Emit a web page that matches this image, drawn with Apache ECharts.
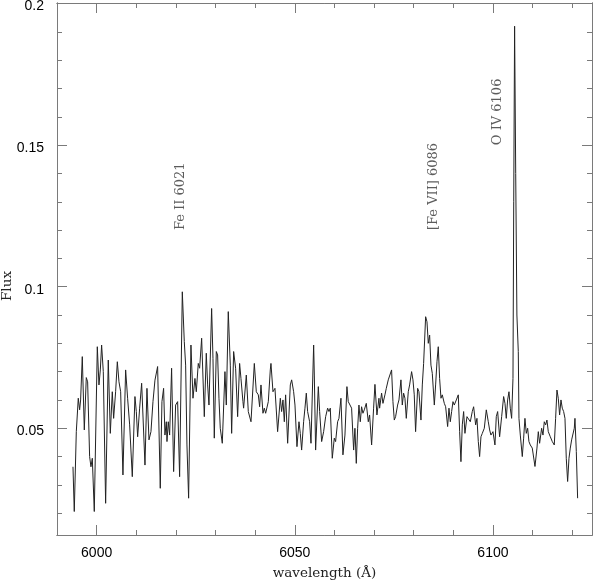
<!DOCTYPE html>
<html>
<head>
<meta charset="utf-8">
<script src="https://cdn.jsdelivr.net/npm/echarts@6/dist/echarts.min.js"></script>
<style>
html,body{margin:0;padding:0;background:#fff;}
#chart{width:593px;height:582px;}
</style>
</head>
<body>
<div id="chart"></div>
<script>
const wavelength = [
5994.03,5994.36,5994.87,5995.37,5995.71,5995.96,5996.38,5996.89,5997.39,5997.73,
5998.23,5998.57,5998.91,5999.41,6000.17,6000.59,6000.93,6001.26,6001.68,6002.27,
6002.94,6003.45,6003.95,6004.29,6004.79,6005.22,6005.64,6006.06,6006.64,6007.32,
6007.82,6008.33,6009.00,6009.67,6010.01,6010.35,6010.85,6011.36,6012.20,6012.70,
6013.21,6013.71,6014.22,6014.72,6015.39,6016.06,6016.48,6016.90,6017.24,6017.58,
6017.75,6018.08,6018.42,6018.92,6019.43,6019.93,6020.44,6020.94,6021.62,6022.12,
6022.46,6022.79,6023.21,6023.80,6024.31,6024.81,6025.15,6025.65,6025.99,6026.50,
6027.17,6027.67,6028.01,6028.35,6029.02,6029.36,6029.69,6030.20,6030.53,6030.87,
6031.20,6031.71,6032.38,6032.72,6033.22,6033.73,6034.07,6034.57,6035.07,6035.58,
6036.08,6036.42,6036.92,6037.09,6037.77,6038.27,6038.95,6039.79,6040.29,6040.80,
6041.13,6041.47,6041.97,6042.31,6042.65,6043.32,6043.82,6043.99,6044.50,6045.00,
6045.67,6046.35,6046.68,6047.02,6047.36,6047.69,6048.20,6048.87,6049.21,6049.71,
6050.05,6050.55,6051.06,6051.39,6051.73,6052.23,6052.57,6052.91,6053.24,6053.75,
6054.09,6054.76,6054.93,6055.26,6055.94,6056.27,6056.78,6057.28,6057.79,6058.29,
6058.63,6058.96,6059.46,6059.97,6060.30,6060.81,6061.15,6061.65,6062.15,6062.66,
6063.16,6063.50,6063.84,6064.34,6064.85,6065.18,6065.52,6065.86,6066.19,6066.53,
6066.86,6067.20,6067.54,6068.04,6068.55,6068.88,6069.39,6069.89,6070.23,6070.73,
6071.24,6071.41,6071.91,6072.25,6072.75,6073.09,6073.59,6073.93,6074.43,6074.77,
6075.11,6075.44,6075.95,6076.29,6076.79,6077.13,6077.46,6077.80,6078.14,6078.64,
6078.98,6079.48,6079.82,6080.15,6080.49,6081.00,6081.33,6081.84,6082.18,6082.51,
6083.02,6083.36,6083.69,6084.03,6084.36,6084.70,6085.21,6085.54,6085.88,6086.21,
6086.55,6086.89,6087.22,6087.73,6088.07,6088.57,6088.91,6089.24,6089.58,6089.92,
6090.25,6090.76,6091.26,6091.60,6091.93,6092.27,6092.61,6092.94,6093.45,6093.78,
6094.29,6094.79,6095.13,6095.64,6095.97,6096.31,6096.64,6096.98,6097.32,6097.82,
6098.33,6098.83,6099.17,6099.50,6100.01,6100.51,6100.85,6101.19,6101.69,6102.20,
6102.70,6103.04,6103.37,6103.71,6104.05,6104.38,6104.72,6105.06,6105.25,6105.47,
6105.75,6106.05,6106.40,6106.57,6106.91,6107.41,6107.75,6108.08,6108.42,6108.76,
6109.09,6109.43,6109.93,6110.61,6111.11,6111.45,6111.78,6112.29,6112.63,6112.96,
6113.30,6113.63,6113.97,6114.48,6114.98,6115.48,6115.82,6116.16,6116.49,6116.83,
6117.17,6117.50,6117.84,6118.18,6118.51,6118.85,6119.19,6119.52,6119.86,6120.20,
6120.53,6120.70,6121.04,6121.37
];
const flux = [
0.0364,0.0206,0.0488,0.0606,0.0565,0.0600,0.0753,0.0494,0.0679,0.0664,
0.0400,0.0364,0.0394,0.0206,0.0788,0.0653,0.0706,0.0794,0.0700,0.0235,
0.0741,0.0482,0.0629,0.0535,0.0629,0.0735,0.0664,0.0629,0.0335,0.0706,
0.0606,0.0512,0.0329,0.0612,0.0559,0.0470,0.0571,0.0659,0.0370,0.0641,
0.0459,0.0488,0.0594,0.0670,0.0718,0.0288,0.0594,0.0641,0.0476,0.0523,
0.0453,0.0523,0.0476,0.0712,0.0347,0.0582,0.0594,0.0329,0.0982,0.0806,
0.0723,0.0441,0.0253,0.0794,0.0606,0.0676,0.0629,0.0729,0.0712,0.0818,
0.0541,0.0765,0.0653,0.0582,0.0923,0.0747,0.0465,0.0771,0.0759,0.0606,
0.0500,0.0447,0.0700,0.0582,0.0912,0.0723,0.0482,0.0771,0.0712,0.0541,
0.0729,0.0676,0.0594,0.0571,0.0688,0.0559,0.0523,0.0729,0.0629,0.0618,
0.0576,0.0653,0.0553,0.0571,0.0553,0.0594,0.0706,0.0729,0.0629,0.0641,
0.0488,0.0606,0.0559,0.0600,0.0523,0.0618,0.0447,0.0653,0.0671,0.0629,
0.0582,0.0435,0.0523,0.0482,0.0423,0.0523,0.0571,0.0624,0.0559,0.0523,
0.0447,0.0794,0.0688,0.0423,0.0647,0.0559,0.0453,0.0488,0.0541,0.0571,
0.0559,0.0571,0.0394,0.0465,0.0453,0.0523,0.0535,0.0606,0.0406,0.0476,
0.0647,0.0594,0.0600,0.0571,0.0423,0.0500,0.0376,0.0500,0.0582,0.0523,
0.0576,0.0553,0.0565,0.0588,0.0523,0.0547,0.0441,0.0571,0.0655,0.0547,
0.0606,0.0571,0.0624,0.0588,0.0618,0.0641,0.0671,0.0665,0.0706,0.0594,
0.0529,0.0541,0.0582,0.0600,0.0671,0.0582,0.0624,0.0606,0.0535,0.0629,
0.0653,0.0700,0.0671,0.0618,0.0488,0.0641,0.0629,0.0529,0.0653,0.0729,
0.0894,0.0876,0.0800,0.0829,0.0723,0.0694,0.0582,0.0653,0.0735,0.0788,
0.0676,0.0606,0.0618,0.0588,0.0576,0.0506,0.0571,0.0523,0.0559,0.0594,
0.0582,0.0600,0.0618,0.0488,0.0382,0.0512,0.0559,0.0482,0.0541,0.0547,
0.0523,0.0559,0.0576,0.0512,0.0535,0.0453,0.0400,0.0470,0.0482,0.0500,
0.0565,0.0523,0.0494,0.0476,0.0488,0.0441,0.0541,0.0559,0.0470,0.0541,
0.0612,0.0588,0.0535,0.0600,0.0629,0.0571,0.0535,0.0676,0.1300,0.1920,
0.1400,0.0900,0.0771,0.0535,0.0476,0.0400,0.0465,0.0535,0.0482,0.0500,
0.0453,0.0441,0.0430,0.0365,0.0430,0.0488,0.0447,0.0500,0.0476,0.0523,
0.0512,0.0529,0.0488,0.0470,0.0453,0.0441,0.0535,0.0635,0.0606,0.0547,
0.0600,0.0571,0.0559,0.0535,0.0394,0.0312,0.0394,0.0430,0.0459,0.0453,
0.0500,0.0535,0.0418,0.0253
];
const xMajorTicks = [6000, 6050, 6100];
const xMinorTicks = [6010, 6020, 6030, 6040, 6060, 6070, 6080, 6090, 6110, 6120];
const yMajorTicks = [0.05, 0.1, 0.15, 0.2];
const yMinorTicks = [0.02, 0.03, 0.04, 0.06, 0.07, 0.08, 0.09, 0.11, 0.12, 0.13, 0.14, 0.16, 0.17, 0.18, 0.19];
const annoLabels = ['Fe II 6021', '[Fe VII] 6086', 'O IV 6106'];
const annoX = [6021.2, 6085.1, 6101.1];
const annoY = [0.12, 0.12, 0.15];

const X_MIN = 5990, X_MAX = 6125, Y_MIN = 0.0123, Y_MAX = 0.2002;
const AXIS_COLOR = '#7a7a7a';

function xAx(position, ticks, len, extra) {
  return Object.assign({
    type: 'value', position: position, min: X_MIN, max: X_MAX,
    axisLine: { show: true, lineStyle: { color: AXIS_COLOR, width: 1 } },
    axisTick: { show: true, inside: true, length: len, customValues: ticks, lineStyle: { color: AXIS_COLOR, width: 1 } },
    axisLabel: { show: false },
    splitLine: { show: false }
  }, extra || {});
}
function yAx(position, ticks, len, extra) {
  return Object.assign({
    type: 'value', position: position, min: Y_MIN, max: Y_MAX,
    axisLine: { show: true, lineStyle: { color: AXIS_COLOR, width: 1 } },
    axisTick: { show: true, inside: true, length: len, customValues: ticks, lineStyle: { color: AXIS_COLOR, width: 1 } },
    axisLabel: { show: false },
    splitLine: { show: false }
  }, extra || {});
}

const chart = echarts.init(document.getElementById('chart'), null, { renderer: 'canvas' });
chart.setOption({
  animation: false,
  backgroundColor: '#fff',
  grid: { left: 57, right: 1, top: 3, bottom: 47, containLabel: false, outerBoundsMode: 'none' },
  xAxis: [
    xAx('bottom', xMajorTicks, 10, {
      axisLabel: { show: true, customValues: xMajorTicks, margin: 11, color: '#000',
        fontFamily: 'Liberation Sans', fontSize: 14, formatter: v => String(v) },
      name: 'wavelength (Å)', nameLocation: 'middle', nameGap: 31, nameMoveOverlap: false,
      nameTextStyle: { fontFamily: 'DejaVu Serif', fontSize: 13.5, color: '#222' }
    }),
    xAx('bottom', xMinorTicks, 5),
    xAx('top', xMajorTicks, 10),
    xAx('top', xMinorTicks, 5)
  ],
  yAxis: [
    yAx('left', yMajorTicks, 10, {
      axisLabel: { show: true, customValues: yMajorTicks, margin: 13, color: '#000',
        fontFamily: 'Liberation Sans', fontSize: 14, verticalAlign: 'top', lineHeight: 6,
        formatter: v => String(v) },
      name: 'Flux', nameLocation: 'middle', nameGap: 43, nameMoveOverlap: false,
      nameTextStyle: { fontFamily: 'DejaVu Serif', fontSize: 13.5, color: '#222', padding: [0, 34, 0, 0] }
    }),
    yAx('left', yMinorTicks, 5),
    yAx('right', yMajorTicks, 10),
    yAx('right', yMinorTicks, 5)
  ],
  series: [
    {
      type: 'line', name: 'spectrum', xAxisIndex: 0, yAxisIndex: 0,
      data: wavelength.map((w, i) => [w, flux[i]]),
      showSymbol: false, symbol: 'none', smooth: false,
      lineStyle: { color: '#222', width: 1 },
      clip: true, silent: true
    },
    {
      type: 'scatter', name: 'lines', xAxisIndex: 0, yAxisIndex: 0,
      symbolSize: 0, silent: true,
      data: annoLabels.map((t, i) => ({ name: t, value: [annoX[i], annoY[i]] })),
      label: {
        show: true, position: 'inside', rotate: 90, align: 'left', verticalAlign: 'middle',
        formatter: p => p.name,
        fontFamily: 'DejaVu Serif', fontSize: 13, color: '#333'
      }
    }
  ]
});
</script>
</body>
</html>
